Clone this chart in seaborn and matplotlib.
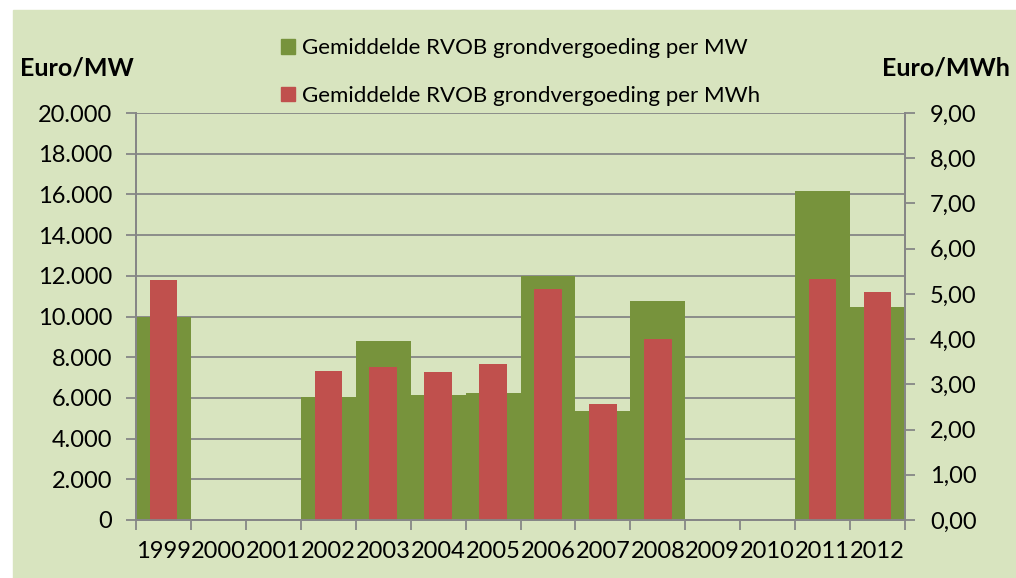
import numpy as np
import pandas as pd
import matplotlib
matplotlib.use("Agg")
import matplotlib.pyplot as plt
import seaborn as sns
from matplotlib.patches import Rectangle, Patch
from matplotlib.ticker import FuncFormatter, FixedLocator

# Data
years = ["1999", "2000", "2001", "2002", "2003", "2004", "2005",
         "2006", "2007", "2008", "2009", "2010", "2011", "2012"]
per_mw = [10000, np.nan, np.nan, 6050, 8800, 6130, 6260,
          12000, 5380, 10770, np.nan, np.nan, 16150, 10460]
per_mwh = [5.30, np.nan, np.nan, 3.30, 3.38, 3.28, 3.46,
           5.10, 2.57, 4.00, np.nan, np.nan, 5.32, 5.05]
label_mw = "Gemiddelde RVOB grondvergoeding per MW"
label_mwh = "Gemiddelde RVOB grondvergoeding per MWh"

df = pd.DataFrame({"year": years, "mw": per_mw, "mwh": per_mwh})

green = "#77933c"
red = "#c0504d"
bg = "#d8e4bf"
grey = "#868686"

sns.set_style("white")
plt.rcParams["font.family"] = ["Lato", "DejaVu Sans"]
plt.rcParams["text.color"] = "black"
plt.rcParams["xtick.color"] = "black"
plt.rcParams["ytick.color"] = "black"

fig = plt.figure(figsize=(10.16, 5.78), dpi=100)
fig.patch.set_facecolor("white")
fig.patches.append(Rectangle((13 / 1016, 0), 1, 1 - 10 / 578,
                             transform=fig.transFigure, color=bg, zorder=-5))

ax = fig.add_axes([136 / 1016, 1 - 520 / 578, (905 - 136) / 1016, (520 - 113) / 578])
ax.patch.set_alpha(0)

# green bars fill the whole category, red bars half of it on the right axis
sns.barplot(data=df, x="year", y="mw", order=years, color=green, width=1.0,
            saturation=1, linewidth=0, ax=ax, zorder=2)
ax.set_ylim(0, 20000)
ax.set_yticks(np.arange(0, 20001, 2000))
ax.yaxis.set_major_formatter(FuncFormatter(lambda v, p: f"{v:,.0f}".replace(",", ".")))
ax.grid(axis="y", color=grey, lw=1.3, zorder=0)
ax.set_axisbelow(True)

ax2 = ax.twinx()
sns.barplot(data=df, x="year", y="mwh", order=years, color=red, width=0.5,
            saturation=1, linewidth=0, ax=ax2)
ax2.set_ylim(0, 9)
ax2.set_yticks(np.arange(0, 9.01, 1))
ax2.yaxis.set_major_formatter(FuncFormatter(lambda v, p: f"{v:.2f}".replace(".", ",")))
ax.set_xlim(-0.5, 13.5)

for a in (ax, ax2):
    a.set_xlabel("")
    a.set_ylabel("")
    a.spines["top"].set_visible(False)
    for s in ("left", "right", "bottom"):
        a.spines[s].set_color(grey)
        a.spines[s].set_linewidth(1.3)

ax.tick_params(axis="y", left=True, length=7, width=1.3, color=grey, labelsize=17,
               pad=10, labelcolor="black")
ax2.tick_params(axis="y", right=True, length=7, width=1.3, color=grey, labelsize=17,
                pad=11, labelcolor="black")
ax.tick_params(axis="x", which="major", length=0, labelsize=17, pad=15, labelcolor="black")
ax.xaxis.set_minor_locator(FixedLocator(np.arange(-0.5, 14, 1)))
ax.tick_params(axis="x", which="minor", bottom=True, length=7, width=1.3, color=grey)

fig.text(20 / 1016, 1 - 68 / 578, "Euro/MW", fontsize=18, fontweight="bold", va="center")
fig.text(1010 / 1016, 1 - 68 / 578, "Euro/MWh", fontsize=18, fontweight="bold",
         va="center", ha="right")

handles = [Patch(color=green, label=label_mw), Patch(color=red, label=label_mwh)]
fig.legend(handles=handles, loc="upper left", bbox_to_anchor=(281 / 1016, 1 - 38 / 578),
           frameon=False, fontsize=16, labelspacing=1.25, handlelength=0.65,
           handleheight=0.65, handletextpad=0.3, borderpad=0, borderaxespad=0)

fig.savefig("out.png", dpi=100, facecolor=fig.get_facecolor())
